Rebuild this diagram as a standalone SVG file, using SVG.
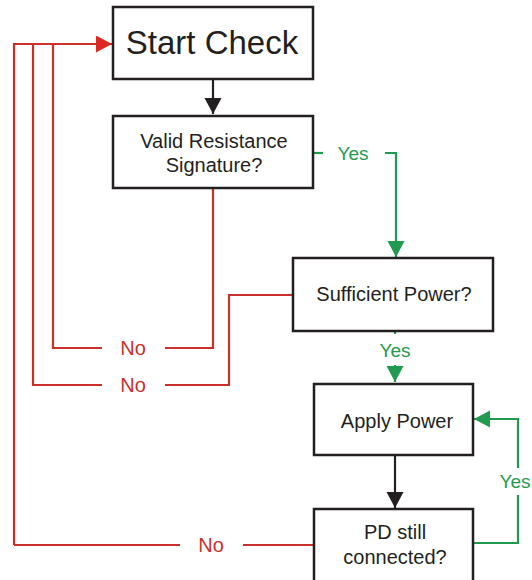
<svg xmlns="http://www.w3.org/2000/svg" width="532" height="580" viewBox="0 0 532 580">
<defs>
<style>
.box{fill:#fff;stroke:#231f20;stroke-width:2.5}
.t{font-family:"Liberation Sans",Arial,sans-serif;fill:#231f20;text-anchor:middle}
.red{fill:none;stroke:#c9302c;stroke-width:2.2}
.grn{fill:none;stroke:#1f9a4e;stroke-width:2.2}
.blk{fill:none;stroke:#231f20;stroke-width:2.2}
.lr{font-family:"Liberation Sans",Arial,sans-serif;font-size:20px;fill:#c9302c;text-anchor:middle}
.lg{font-family:"Liberation Sans",Arial,sans-serif;font-size:19px;fill:#1f9a4e;text-anchor:middle}
</style>
<marker id="ab" markerWidth="18" markerHeight="18" refX="16" refY="8.5" orient="auto" markerUnits="userSpaceOnUse"><path d="M0,0 L16,8.5 L0,17 Z" fill="#231f20"/></marker>
<marker id="ar" markerWidth="18" markerHeight="18" refX="16" refY="8.5" orient="auto" markerUnits="userSpaceOnUse"><path d="M0,0 L16,8.5 L0,17 Z" fill="#dc2a22"/></marker>
<marker id="ag" markerWidth="18" markerHeight="18" refX="16" refY="8.5" orient="auto" markerUnits="userSpaceOnUse"><path d="M0,0 L16,8.5 L0,17 Z" fill="#1f9a4e"/></marker>
</defs>
<rect width="532" height="580" fill="#fff"/>
<g id="connectors">
<path class="blk" d="M213,79 V114" marker-end="url(#ab)"/>
<path class="blk" d="M395,455 V508" marker-end="url(#ab)"/>
<path class="red" d="M14,545 V44 H112" marker-end="url(#ar)"/>
<path class="red" d="M33,44 V385 H102"/>
<path class="red" d="M53,44 V348 H102"/>
<path class="red" d="M213,188 V348 H165"/>
<path class="red" d="M293,295 H229 V385 H165"/>
<path class="red" d="M14,545 H180"/>
<path class="red" d="M243,545 H314"/>
<text class="lr" x="133" y="355">No</text>
<text class="lr" x="133" y="392">No</text>
<text class="lr" x="211" y="552">No</text>
<path class="grn" d="M313,153 H323"/>
<path class="grn" d="M385,153 H396 V257" marker-end="url(#ag)"/>
<text class="lg" x="353" y="160">Yes</text>
<path class="grn" d="M395,331 V334"/>
<path class="grn" d="M395,365 V382" marker-end="url(#ag)"/>
<text class="lg" x="395" y="357">Yes</text>
<path class="grn" d="M473,543 H518 V495"/>
<path class="grn" d="M518,468 V419 H474" marker-end="url(#ag)"/>
<text class="lg" x="515" y="488">Yes</text>
</g>
<g id="start">
<rect class="box" x="113" y="7" width="200" height="72"/>
<text class="t" x="212" y="54" font-size="33">Start Check</text>
</g>
<g id="valid">
<rect class="box" x="113" y="116" width="200" height="72"/>
<text class="t" x="214" y="148" font-size="20">Valid Resistance</text>
<text class="t" x="214" y="172" font-size="20">Signature?</text>
</g>
<g id="sufficient">
<rect class="box" x="293" y="258" width="200" height="73"/>
<text class="t" x="394" y="301" font-size="20">Sufficient Power?</text>
</g>
<g id="apply">
<rect class="box" x="314" y="384" width="159" height="71"/>
<text class="t" x="397" y="428" font-size="20">Apply Power</text>
</g>
<g id="pd">
<rect class="box" x="314" y="509" width="159" height="85"/>
<text class="t" x="395" y="539" font-size="20">PD still</text>
<text class="t" x="395" y="564" font-size="20">connected?</text>
</g>
</svg>
